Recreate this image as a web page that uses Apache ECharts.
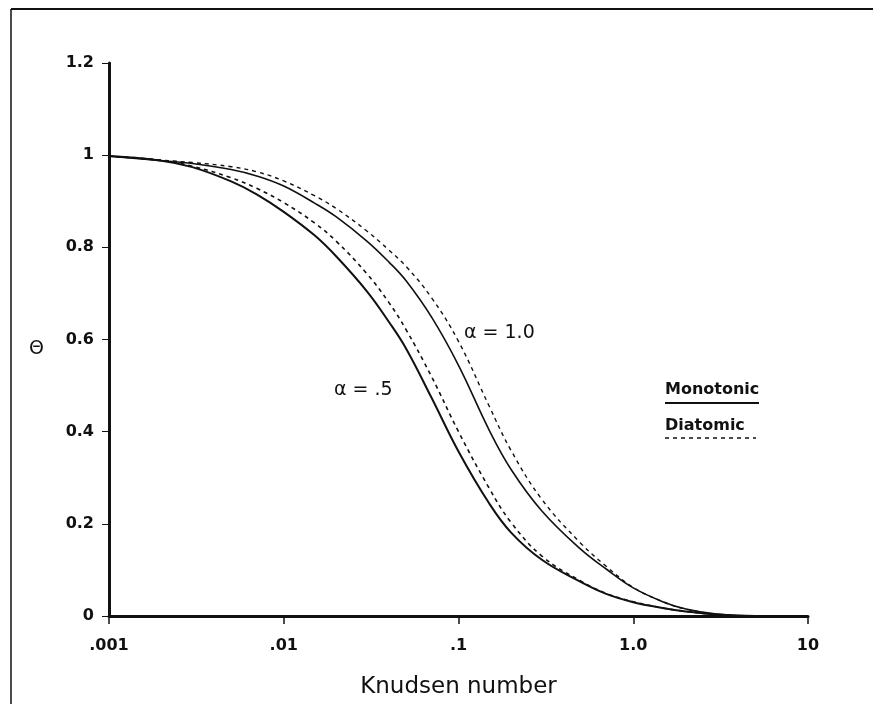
<!DOCTYPE html>
<html>
<head>
<meta charset="utf-8">
<script src="https://cdn.jsdelivr.net/npm/echarts@6/dist/echarts.min.js"></script>
<style>
  html, body { margin: 0; padding: 0; background: #fff; }
  #chart { width: 873px; height: 704px; }
</style>
</head>
<body>
<div id="chart"></div>
<script>
// Knudsen numbers at which the curves are sampled
const knudsen = [0.001, 0.002, 0.003, 0.005, 0.007, 0.01, 0.015, 0.02, 0.03, 0.04, 0.05, 0.07,
                 0.1, 0.15, 0.2, 0.3, 0.5, 0.7, 1, 1.5, 2, 3, 5, 10];
// Theta for accommodation coefficient 0.5
const monoAlpha05 = [0.998, 0.988, 0.974, 0.943, 0.915, 0.877, 0.826, 0.780, 0.704, 0.638, 0.581, 0.474,
                     0.357, 0.244, 0.181, 0.122, 0.074, 0.048, 0.030, 0.017, 0.010, 0.003, 0, 0];
const diaAlpha05  = [0.998, 0.989, 0.976, 0.951, 0.928, 0.897, 0.853, 0.813, 0.742, 0.680, 0.622, 0.520,
                     0.400, 0.277, 0.203, 0.130, 0.076, 0.049, 0.031, 0.017, 0.010, 0.003, 0, 0];
// Theta for accommodation coefficient 1.0
const monoAlpha10 = [0.998, 0.988, 0.982, 0.969, 0.955, 0.933, 0.896, 0.866, 0.813, 0.768, 0.728, 0.649,
                     0.544, 0.403, 0.318, 0.228, 0.145, 0.102, 0.061, 0.030, 0.015, 0.004, 0, 0];
const diaAlpha10  = [0.998, 0.989, 0.984, 0.975, 0.964, 0.944, 0.912, 0.884, 0.835, 0.794, 0.759, 0.691,
                     0.596, 0.455, 0.359, 0.253, 0.158, 0.108, 0.062, 0.030, 0.015, 0.004, 0, 0];

// Axis tick labels
const xTickValues = [0.001, 0.01, 0.1, 1, 10];
const xTickLabels = ['.001', '.01', '.1', '1.0', '10'];
const yTickValues = [0, 0.2, 0.4, 0.6, 0.8, 1, 1.2];
const yTickLabels = ['0', '0.2', '0.4', '0.6', '0.8', '1', '1.2'];

const FONT = 'DejaVu Sans';

function pairs(ys) { return knudsen.map((k, i) => [k, ys[i]]); }

function curve(name, ys, dashed, width) {
  return {
    name: name,
    type: 'line',
    data: pairs(ys),
    smooth: 0.4,
    showSymbol: false,
    silent: true,
    lineStyle: {
      color: '#111',
      width: width,
      type: dashed ? [4, 4] : 'solid'
    }
  };
}

const chart = echarts.init(document.getElementById('chart'), null, { renderer: 'canvas' });

chart.setOption({
  backgroundColor: '#ffffff',
  animation: false,
  grid: { left: 109, right: 65, top: 63, bottom: 83, containLabel: false },
  xAxis: {
    type: 'log',
    logBase: 10,
    min: 0.001,
    max: 10,
    name: 'Knudsen number',
    nameLocation: 'middle',
    nameGap: 60,
    nameTextStyle: { fontFamily: FONT, fontSize: 23, color: '#111' },
    axisLine: { show: true, onZero: false, lineStyle: { color: '#111', width: 3 } },
    axisTick: { show: true, length: 8, lineStyle: { color: '#111', width: 1.5 } },
    minorTick: { show: false },
    splitLine: { show: false },
    axisLabel: {
      margin: 22,
      fontFamily: FONT, fontSize: 16, fontWeight: 'bold', color: '#111',
      formatter: function (v) {
        const i = xTickValues.findIndex(t => Math.abs(Math.log10(t) - Math.log10(v)) < 1e-6);
        return i >= 0 ? xTickLabels[i] : '';
      }
    }
  },
  yAxis: {
    type: 'value',
    min: 0,
    max: 1.2,
    interval: 0.2,
    axisLine: { show: true, lineStyle: { color: '#111', width: 3 } },
    axisTick: { show: true, length: 7, lineStyle: { color: '#111', width: 1 } },
    splitLine: { show: false },
    axisLabel: {
      margin: 15,
      fontFamily: FONT, fontSize: 16, fontWeight: 'bold', color: '#111',
      formatter: function (v) {
        const i = yTickValues.findIndex(t => Math.abs(t - v) < 1e-6);
        return i >= 0 ? yTickLabels[i] : '';
      }
    }
  },
  series: [
    curve('Monotonic α = .5', monoAlpha05, false, 2),
    curve('Diatomic α = .5', diaAlpha05, true, 1.6),
    curve('Monotonic α = 1.0', monoAlpha10, false, 1.6),
    curve('Diatomic α = 1.0', diaAlpha10, true, 1.4)
  ],
  graphic: [
    // page frame
    { type: 'line', shape: { x1: 11, y1: 9, x2: 873, y2: 9 }, style: { stroke: '#111', lineWidth: 2 } },
    { type: 'line', shape: { x1: 11, y1: 9, x2: 11, y2: 704 }, style: { stroke: '#111', lineWidth: 1.5 } },
    // y axis symbol
    { type: 'text', left: 29, top: 340, style: { text: 'Θ', fontFamily: FONT, fontSize: 19, fill: '#111' } },
    // curve annotations
    { type: 'text', left: 464, top: 324, style: { text: 'α = 1.0', fontFamily: FONT, fontSize: 19, fill: '#111' } },
    { type: 'text', left: 334, top: 381, style: { text: 'α = .5', fontFamily: FONT, fontSize: 19, fill: '#111' } },
    // key
    { type: 'text', left: 665, top: 382, style: { text: 'Monotonic', fontFamily: FONT, fontSize: 16, fontWeight: 'bold', fill: '#111' } },
    { type: 'line', shape: { x1: 665, y1: 403, x2: 759, y2: 403 }, style: { stroke: '#111', lineWidth: 2 } },
    { type: 'text', left: 665, top: 418, style: { text: 'Diatomic', fontFamily: FONT, fontSize: 16, fontWeight: 'bold', fill: '#111' } },
    { type: 'line', shape: { x1: 665, y1: 438, x2: 756, y2: 438 }, style: { stroke: '#111', lineWidth: 1.5, lineDash: [4, 4] } }
  ]
});
</script>
</body>
</html>
